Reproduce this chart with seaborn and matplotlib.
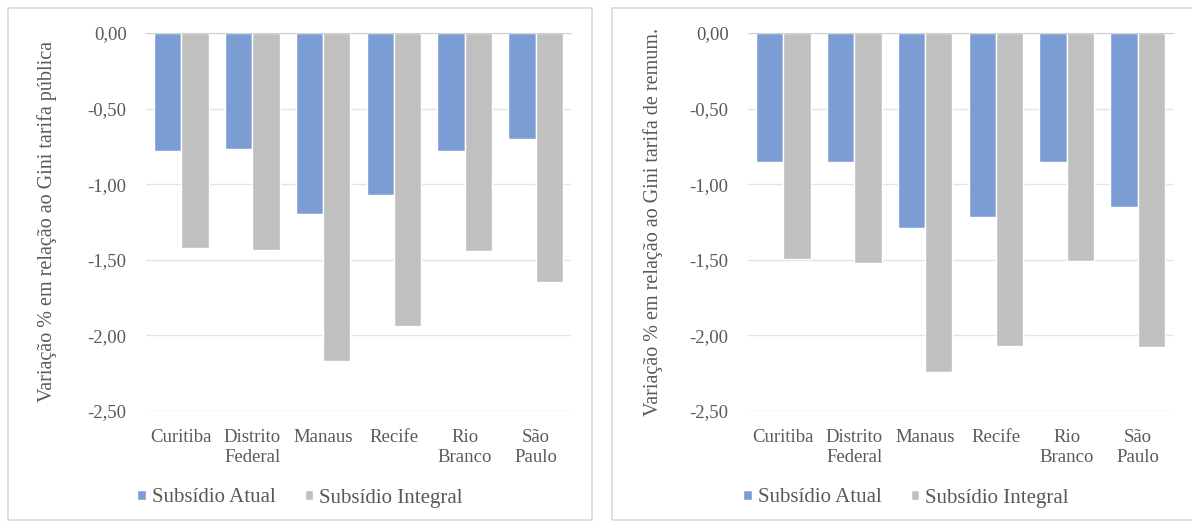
import pandas as pd
import matplotlib.pyplot as plt
import seaborn as sns
from matplotlib.patches import Rectangle
from matplotlib.ticker import FuncFormatter

cidades = ['Curitiba', 'Distrito\nFederal', 'Manaus', 'Recife', 'Rio\nBranco', 'São\nPaulo']
series = ['Subsídio Atual', 'Subsídio Integral']

# variação % em relação ao Gini tarifa pública
pub_atual = [-0.78, -0.77, -1.20, -1.07, -0.78, -0.70]
pub_integral = [-1.42, -1.435, -2.17, -1.94, -1.44, -1.65]

# variação % em relação ao Gini tarifa de remuneração
rem_atual = [-0.85, -0.85, -1.29, -1.22, -0.85, -1.15]
rem_integral = [-1.495, -1.52, -2.24, -2.07, -1.51, -2.08]

ylabels = ['Variação % em relação ao Gini tarifa pública',
           'Variação % em relação ao Gini tarifa de remum.']

cores = ['#7B9DD4', '#C0C0C0']
txt = '#595959'

sns.set_style('white')
plt.rcParams['font.family'] = ['Liberation Serif', 'DejaVu Serif']


def monta(atual, integral):
    df = pd.DataFrame({'Cidade': cidades * 2,
                       'Serie': [series[0]] * 6 + [series[1]] * 6,
                       'Valor': atual + integral})
    return df


fig = plt.figure(figsize=(11.92, 5.25), dpi=100)

# borders of the two chart boxes
fig.patches.append(Rectangle((8 / 1192, 5 / 525), 584 / 1192, 512 / 525,
                             transform=fig.transFigure, fill=False,
                             edgecolor='#d9d9d9', lw=1.2))
fig.patches.append(Rectangle((612 / 1192, 5 / 525), 590 / 1192, 512 / 525,
                             transform=fig.transFigure, fill=False,
                             edgecolor='#d9d9d9', lw=1.2))

paineis = [(146, monta(pub_atual, pub_integral), ylabels[0], 300, 22),
           (748, monta(rem_atual, rem_integral), ylabels[1], 906, 19)]

for x0, df, ylab, cx, lpad in paineis:
    ax = fig.add_axes([x0 / 1192, 1 - 411 / 525, 425 / 1192, 378 / 525])
    sns.barplot(data=df, x='Cidade', y='Valor', hue='Serie',
                palette=cores, width=0.77, saturation=1, ax=ax)
    ax.set_ylim(-2.5, 0)
    ax.set_yticks([0, -0.5, -1.0, -1.5, -2.0, -2.5])
    ax.yaxis.set_major_formatter(FuncFormatter(lambda v, p: f'{v:.2f}'.replace('.', ',')))
    ax.grid(axis='y', color='#e3e3e3', lw=1)
    ax.set_axisbelow(True)
    for s in ['left', 'right', 'bottom']:
        ax.spines[s].set_visible(False)
    ax.spines['top'].set_color('#d0d0d0')
    ax.tick_params(axis='both', length=0, labelsize=13.5, colors=txt)
    ax.tick_params(axis='y', pad=14)
    ax.tick_params(axis='x', pad=13)
    ax.set_xlabel('')
    ax.set_ylabel(ylab, fontsize=14.5, color=txt, labelpad=lpad)
    ax.legend_.remove()
    h, l = ax.get_legend_handles_labels()
    fig.legend(h, l, loc='center', bbox_to_anchor=(cx / 1192, 1 - 498 / 525),
               ncol=2, frameon=False, fontsize=15, labelcolor=txt,
               handlelength=0.4, handleheight=0.4, handletextpad=0.3,
               columnspacing=1.4)

plt.savefig('out.png', dpi=100)
